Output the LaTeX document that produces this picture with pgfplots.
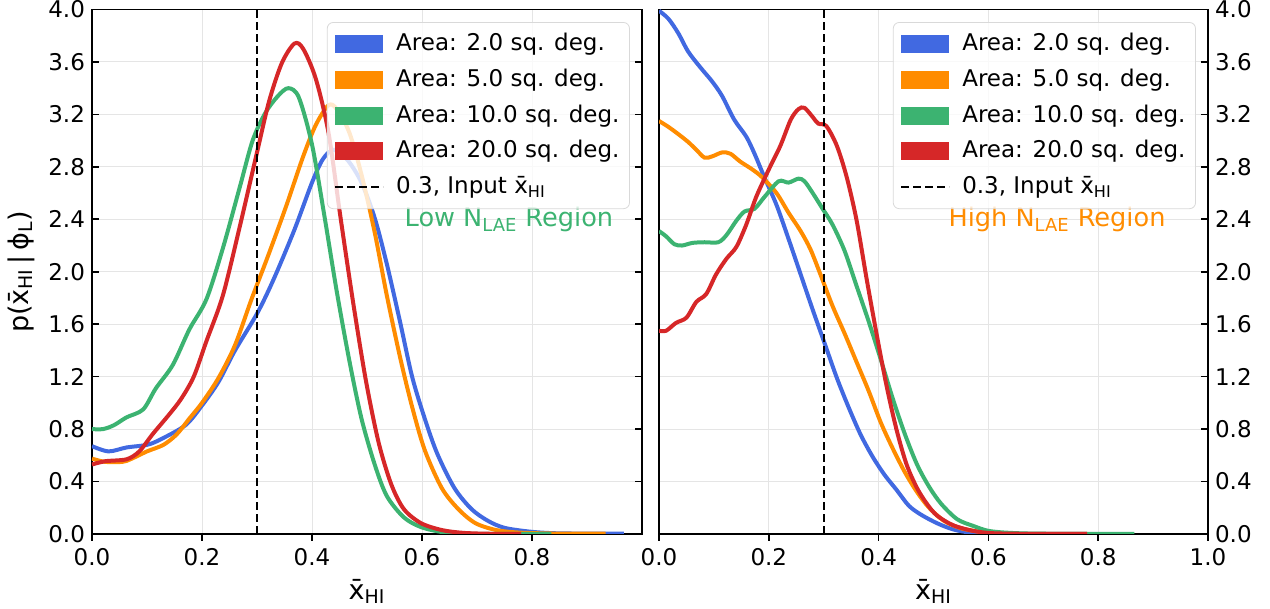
\documentclass[border=0pt]{standalone}
\usepackage{fontspec}
\setmainfont{DejaVu Sans}
\usepackage{pgfplots}
\pgfplotsset{compat=1.18}
\definecolor{cblue}{RGB}{65,105,225}
\definecolor{corange}{RGB}{255,140,0}
\definecolor{cgreen}{RGB}{60,179,113}
\definecolor{cred}{RGB}{214,39,40}

\pgfplotsset{
 panel/.style={
  scale only axis, height=262.25pt,
  xmin=0, xmax=1, ymin=0, ymax=4,
  ytick={0,0.4,0.8,1.2,1.6,2.0,2.4,2.8,3.2,3.6,4.0},
  grid=major, grid style={black!10, line width=0.5pt},
  axis line style={line width=0.8pt},
  xtick align=outside, ytick align=inside,
  xtick pos=bottom,
  major tick length=3.5pt,
  every tick/.style={black, line width=0.8pt},
  tick label style={font=\fontsize{11.5}{13}\selectfont},
  xticklabel style={/pgf/number format/fixed, /pgf/number format/fixed zerofill, /pgf/number format/precision=1},
  yticklabel style={/pgf/number format/fixed, /pgf/number format/fixed zerofill, /pgf/number format/precision=1},
  /pgf/number format/assume math mode=true,
  label style={font=\fontsize{13.5}{16}\selectfont},
  xlabel={\=x\textsubscript{HI}},
  legend cell align=left,
  legend style={at={(0.978,0.976)}, anchor=north east, draw=black!15, rounded corners=3pt,
    fill=white, fill opacity=0.8, text opacity=1,
    font=\fontsize{11.5}{13}\selectfont, inner xsep=3.5pt, inner ysep=3pt,
    row sep=2.4pt, column sep=0pt,
    nodes={inner sep=1.5pt, text height=9.5pt, text depth=3pt}},
  every axis plot/.append style={line width=2pt, smooth},
 },
 patch/.style={legend image code/.code={%
   \path[fill=#1, draw=none, fill opacity=1, sharp corners] (0pt,-4.5pt) rectangle (24pt,4.5pt);
   \path[draw=none, fill=none] (0pt,0pt) -- (29pt,0pt);}},
 vline/.style={legend image code/.code={%
   \draw[black, line width=1pt, draw opacity=1, sharp corners, dash pattern=on 4pt off 2pt] (0pt,0pt) -- (24pt,0pt);
   \path[draw=none, fill=none] (0pt,0pt) -- (29pt,0pt);}},
}

\begin{document}
\begin{tikzpicture}
\path[use as bounding box] (-46pt,-37.5pt) rectangle (589pt,267pt);

\begin{axis}[panel, width=275pt, at={(0pt,0pt)}, anchor=south west,
  xtick={0,0.2,0.4,0.6,0.8}, ytick pos=both,
  ylabel={p(\=x\textsubscript{HI}\,|\,ϕ\textsubscript{L})}]
\addplot[cblue, patch=cblue] coordinates {
(0,0.67) (0.03,0.63) (0.063,0.66) (0.10,0.68) (0.124,0.72) (0.17,0.83) (0.20,0.98) (0.23,1.16) (0.26,1.40) (0.30,1.68) (0.33,1.94) (0.368,2.32) (0.40,2.68) (0.42,2.86) (0.44,2.93) (0.465,2.85) (0.49,2.68) (0.514,2.41) (0.536,2.06) (0.56,1.62) (0.582,1.20) (0.605,0.88) (0.628,0.61) (0.659,0.35) (0.69,0.19) (0.72,0.10) (0.75,0.047) (0.796,0.018) (0.84,0.006) (0.90,0.003) (0.967,0.003)};
\addlegendentry{Area: 2.0 sq. deg.}
\addplot[corange, patch=corange] coordinates {
(0,0.575) (0.024,0.55) (0.055,0.55) (0.07,0.57) (0.10,0.63) (0.13,0.68) (0.154,0.76) (0.177,0.88) (0.20,1.0) (0.23,1.19) (0.26,1.44) (0.29,1.79) (0.32,2.12) (0.353,2.50) (0.384,2.88) (0.407,3.12) (0.43,3.27) (0.445,3.24) (0.468,3.06) (0.49,2.74) (0.514,2.30) (0.536,1.82) (0.56,1.35) (0.582,0.97) (0.605,0.64) (0.636,0.35) (0.666,0.19) (0.697,0.083) (0.735,0.03) (0.78,0.01) (0.85,0.003) (0.934,0.002)};
\addlegendentry{Area: 5.0 sq. deg.}
\addplot[cgreen, patch=cgreen] coordinates {
(0,0.80) (0.02,0.80) (0.04,0.83) (0.063,0.89) (0.093,0.95) (0.116,1.11) (0.147,1.29) (0.177,1.56) (0.208,1.79) (0.238,2.18) (0.269,2.65) (0.292,3.00) (0.315,3.21) (0.338,3.34) (0.357,3.40) (0.376,3.33) (0.40,2.97) (0.422,2.44) (0.445,1.85) (0.468,1.32) (0.49,0.88) (0.514,0.53) (0.536,0.29) (0.567,0.127) (0.598,0.053) (0.636,0.015) (0.674,0.003) (0.75,0.001) (0.835,0.001)};
\addlegendentry{Area: 10.0 sq. deg.}
\addplot[cred, patch=cred] coordinates {
(0,0.53) (0.024,0.555) (0.063,0.57) (0.086,0.63) (0.11,0.76) (0.14,0.91) (0.162,1.03) (0.185,1.20) (0.208,1.47) (0.238,1.82) (0.269,2.35) (0.30,2.91) (0.322,3.30) (0.345,3.59) (0.368,3.74) (0.384,3.70) (0.407,3.47) (0.43,3.06) (0.452,2.41) (0.475,1.76) (0.498,1.17) (0.521,0.70) (0.544,0.38) (0.567,0.19) (0.598,0.083) (0.636,0.03) (0.674,0.009) (0.72,0.002) (0.78,0.001)};
\addlegendentry{Area: 20.0 sq. deg.}
\addplot[black, line width=1pt, dash pattern=on 4pt off 2pt, sharp plot, vline] coordinates {(0.3,0) (0.3,4)};
\addlegendentry{0.3, Input \=x\textsubscript{HI}}
\node[text=cgreen, font=\fontsize{12.8}{15}\selectfont] at (axis cs:0.758,2.40) {Low N\textsubscript{LAE} Region};
\end{axis}

\begin{axis}[panel, width=274.5pt, at={(283.5pt,0pt)}, anchor=south west,
  xtick={0,0.2,0.4,0.6,0.8,1.0}, ytick pos=right, yticklabel pos=right]
\addplot[cblue, patch=cblue] coordinates {
(0,3.99) (0.017,3.93) (0.035,3.82) (0.053,3.68) (0.075,3.56) (0.097,3.45) (0.115,3.34) (0.137,3.16) (0.159,3.03) (0.174,2.90) (0.192,2.72) (0.214,2.51) (0.236,2.25) (0.258,1.98) (0.28,1.71) (0.302,1.45) (0.324,1.19) (0.345,0.97) (0.367,0.76) (0.389,0.59) (0.411,0.45) (0.433,0.335) (0.455,0.216) (0.477,0.148) (0.506,0.083) (0.535,0.036) (0.565,0.012) (0.61,0.003) (0.70,0.001) (0.78,0.001)};
\addlegendentry{Area: 2.0 sq. deg.}
\addplot[corange, patch=corange] coordinates {
(0,3.15) (0.017,3.105) (0.035,3.05) (0.053,2.99) (0.068,2.93) (0.083,2.87) (0.097,2.88) (0.115,2.91) (0.13,2.90) (0.148,2.84) (0.17,2.78) (0.188,2.72) (0.214,2.60) (0.236,2.45) (0.258,2.31) (0.276,2.17) (0.294,1.98) (0.316,1.74) (0.338,1.53) (0.36,1.31) (0.382,1.09) (0.404,0.85) (0.426,0.65) (0.448,0.47) (0.47,0.32) (0.492,0.20) (0.52,0.098) (0.55,0.044) (0.587,0.015) (0.623,0.003) (0.70,0.001) (0.78,0.001)};
\addlegendentry{Area: 5.0 sq. deg.}
\addplot[cgreen, patch=cgreen] coordinates {
(0,2.31) (0.013,2.27) (0.028,2.21) (0.042,2.20) (0.061,2.22) (0.083,2.225) (0.108,2.225) (0.123,2.28) (0.141,2.39) (0.156,2.46) (0.174,2.48) (0.192,2.57) (0.218,2.69) (0.236,2.68) (0.254,2.71) (0.265,2.69) (0.28,2.60) (0.298,2.48) (0.316,2.36) (0.338,2.16) (0.36,1.89) (0.382,1.62) (0.404,1.33) (0.426,1.03) (0.448,0.76) (0.47,0.53) (0.492,0.36) (0.514,0.23) (0.543,0.113) (0.572,0.062) (0.60,0.024) (0.638,0.009) (0.70,0.002) (0.866,0.001)};
\addlegendentry{Area: 10.0 sq. deg.}
\addplot[cred, patch=cred] coordinates {
(0,1.55) (0.013,1.55) (0.031,1.61) (0.05,1.65) (0.068,1.77) (0.086,1.83) (0.104,1.98) (0.123,2.10) (0.141,2.19) (0.159,2.36) (0.177,2.57) (0.20,2.78) (0.221,2.96) (0.24,3.16) (0.254,3.24) (0.265,3.25) (0.28,3.18) (0.29,3.13) (0.305,3.11) (0.324,2.96) (0.342,2.72) (0.36,2.39) (0.378,1.95) (0.397,1.51) (0.415,1.12) (0.433,0.79) (0.451,0.53) (0.47,0.35) (0.488,0.23) (0.506,0.142) (0.535,0.068) (0.572,0.024) (0.608,0.006) (0.68,0.001) (0.78,0.001)};
\addlegendentry{Area: 20.0 sq. deg.}
\addplot[black, line width=1pt, dash pattern=on 4pt off 2pt, sharp plot, vline] coordinates {(0.3,0) (0.3,4)};
\addlegendentry{0.3, Input \=x\textsubscript{HI}}
\node[text=corange, font=\fontsize{12.8}{15}\selectfont] at (axis cs:0.725,2.40) {High N\textsubscript{LAE} Region};
\end{axis}
\end{tikzpicture}
\end{document}
